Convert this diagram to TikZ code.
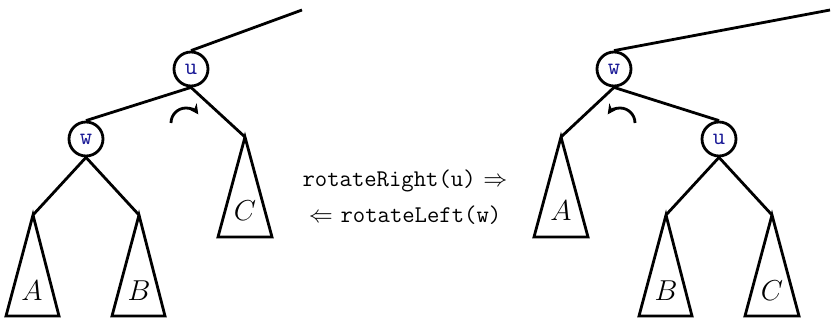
\documentclass[tikz,border=0pt]{standalone}
\usetikzlibrary{arrows.meta}
\definecolor{lbl}{RGB}{25,25,150}
\begin{document}
\begin{tikzpicture}[x=0.5pt,y=-0.5pt,
  every path/.style={line width=1.4pt},
  vert/.style={circle,draw,line width=1.4pt,minimum size=17pt,inner sep=0pt,font=\ttfamily\large,text=lbl},
  tri/.style={draw,line width=1.4pt,line join=miter},
  sub/.style={font=\Large},
  rot/.style={line width=1.4pt,-{Stealth[length=5pt,width=5pt]}}]
\useasboundingbox (0,0) rectangle (836,321);
% left tree
\node[vert] (u) at (191,69) {u};
\node[vert] (w) at (86,139) {w};
\coordinate (ltop) at (302,10);
\coordinate (lc) at (245,137);
\coordinate (la) at (33,215);
\coordinate (lb) at (139,215);
\draw (u.north) -- (ltop);
\draw (u.south) -- (w.north);
\draw (u.south) -- (lc);
\draw (w.south) -- (la);
\draw (w.south) -- (lb);
\draw[tri] (lc) -- (218,237) -- (272,237) -- cycle;
\draw[tri] (la) -- (6,316) -- (59,316) -- cycle;
\draw[tri] (lb) -- (112,316) -- (165,316) -- cycle;
\node[sub] (lC) at (245,211) {$C$};
\node[sub] (lA) at (32,291) {$A$};
\node[sub] (lB) at (139,291) {$B$};
\draw[rot] (171,123) arc[start angle=180,end angle=325,radius=15];
% right tree
\node[vert] (w2) at (614,69) {w};
\node[vert] (u2) at (719,139) {u};
\coordinate (rtop) at (830,10);
\coordinate (ra) at (561,137);
\coordinate (rb) at (666,215);
\coordinate (rc) at (772,215);
\draw (w2.north) -- (rtop);
\draw (w2.south) -- (ra);
\draw (w2.south) -- (u2.north);
\draw (u2.south) -- (rb);
\draw (u2.south) -- (rc);
\draw[tri] (ra) -- (534,237) -- (588,237) -- cycle;
\draw[tri] (rb) -- (639,316) -- (692,316) -- cycle;
\draw[tri] (rc) -- (745,316) -- (799,316) -- cycle;
\node[sub] (rA) at (561,211) {$A$};
\node[sub] (rB) at (666,291) {$B$};
\node[sub] (rC) at (772,291) {$C$};
\draw[rot] (635,123) arc[start angle=0,end angle=-145,radius=15];
% labels
\node[font=\large] (t1) at (405,181) {\texttt{rotateRight(u)} $\Rightarrow$};
\node[font=\large] (t2) at (405,215) {$\Leftarrow$ \texttt{rotateLeft(w)}};
\end{tikzpicture}
\end{document}
